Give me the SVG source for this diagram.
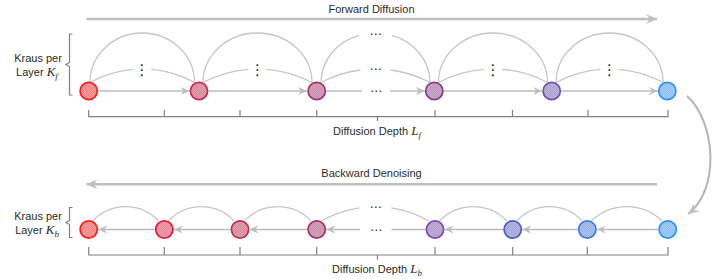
<svg xmlns="http://www.w3.org/2000/svg" width="718" height="279" viewBox="0 0 718 279">
<style>
text{font-family:"Liberation Sans",Arial,sans-serif;font-size:11px;fill:#2b2b2b}
.m{font-family:"Liberation Serif","Times New Roman",serif;font-style:italic;font-size:13px}
.sub{font-family:"Liberation Serif","Times New Roman",serif;font-style:italic;font-size:9px}
.dots{font-family:"DejaVu Sans",sans-serif;font-size:12px;fill:#1a1a1a;text-anchor:middle}
.vd{font-size:15px}
.arc{fill:none;stroke:#c6c6c6;stroke-width:1.3}
.st{fill:none;stroke:#bdbdbd;stroke-width:1.5;marker-end:url(#ah)}
.stp{fill:none;stroke:#bdbdbd;stroke-width:1.5}
.big{fill:none;stroke:#bfbfbf;stroke-width:2.6;marker-end:url(#ahb)}
.brk{fill:none;stroke:#808080;stroke-width:1.2}
.nd{stroke-width:1.7}
.tx{fill:url(#hatch);stroke:none}
</style>
<defs>
<pattern id="hatch" width="2" height="2" patternUnits="userSpaceOnUse">
<rect x="0" y="0" width="1" height="1" fill="#fff" fill-opacity="0.18"/>
<rect x="1" y="1" width="1" height="1" fill="#fff" fill-opacity="0.18"/>
</pattern>
<marker id="ah" markerUnits="userSpaceOnUse" viewBox="0 0 10 10" markerWidth="9" markerHeight="9" refX="10" refY="5" orient="auto">
<path d="M0,0.5 L10,5 L0,9.5 L3.5,5 z" fill="#bdbdbd"/>
</marker>
<marker id="ahb" markerUnits="userSpaceOnUse" viewBox="0 0 10 10" markerWidth="11" markerHeight="11" refX="10" refY="5" orient="auto">
<path d="M0,0.5 L10,5 L0,9.5 L3.5,5 z" fill="#bfbfbf"/>
</marker>
</defs>

<g id="labels">
<text x="371.5" y="13" text-anchor="middle">Forward Diffusion</text>
<text x="371.5" y="177" text-anchor="middle">Backward Denoising</text>
<text x="377" y="135" text-anchor="middle">Diffusion Depth <tspan class="m">L</tspan><tspan class="sub" dy="2.5">f</tspan></text>
<text x="377" y="273" text-anchor="middle">Diffusion Depth <tspan class="m">L</tspan><tspan class="sub" dy="2.5">b</tspan></text>
<text x="38" y="61.5" text-anchor="middle">Kraus per</text>
<text x="37" y="76" text-anchor="middle">Layer <tspan class="m">K</tspan><tspan class="sub" dy="2.5">f</tspan></text>
<text x="38" y="219.5" text-anchor="middle">Kraus per</text>
<text x="37" y="234" text-anchor="middle">Layer <tspan class="m">K</tspan><tspan class="sub" dy="2.5">b</tspan></text>
</g>

<g id="brackets">
<path class="brk" d="M72.5,34 H69.5 V62.5 L66,64.5 L69.5,66.5 V95 H72.5"/>
<path class="brk" d="M72.5,207.5 H69.5 V220.5 L66,222.5 L69.5,224.5 V237.5 H72.5"/>
<path class="brk" d="M88.7,110 V116.7 H668 V110 M164.3,116.7 V110 M240,116.7 V110 M316.7,116.7 V110 M435,116.7 V110 M512.5,116.7 V110 M588,116.7 V110 M377.5,116.7 V121"/>
<path class="brk" d="M88.7,247 V255 H668 V247 M164.3,255 V247 M240,255 V247 M316.7,255 V247 M435,255 V247 M512.7,255 V247 M587.3,255 V247 M377.5,255 V259.5"/>
</g>

<g id="connectors">
<path class="big" d="M86.5,19 L657,19"/>
<path class="big" d="M657,184.3 L86.5,184.3"/>
<path class="big" style="stroke-width:2;stroke:#b5b5b5" d="M687,96 C716,122 720,190 688,214"/>

<path class="arc" d="M90,82.5 A52.25,49.5 0 0 1 194.5,82.5"/>
<path class="arc" d="M90,82.5 A107.9,107.9 0 0 1 133.25,69.4 M151.25,69.4 A107.9,107.9 0 0 1 194.5,82.5"/>
<path class="st" d="M98.5,91 L189.5,91"/>

<path class="arc" d="M203,82.5 A54.5,49.5 0 0 1 312,82.5"/>
<path class="arc" d="M203,82.5 A116.7,116.7 0 0 1 248.5,69.35 M266.5,69.35 A116.7,116.7 0 0 1 312,82.5"/>
<path class="st" d="M208.5,91 L307,91"/>

<path class="arc" d="M321,82.5 A54.5,49.5 0 0 1 359,35.3 M392,35.3 A54.5,49.5 0 0 1 430,82.5"/>
<path class="arc" d="M321,82.5 A116.7,116.7 0 0 1 360.5,70 M390.5,70 A116.7,116.7 0 0 1 430,82.5"/>
<path class="stp" d="M326.2,91 L362,91"/>
<path class="st" d="M390,91 L424.8,91"/>

<path class="arc" d="M438.5,82.5 A54.5,49.5 0 0 1 547.5,82.5"/>
<path class="arc" d="M438.5,82.5 A116.7,116.7 0 0 1 484,69.35 M502,69.35 A116.7,116.7 0 0 1 547.5,82.5"/>
<path class="st" d="M443.8,91 L542.2,91"/>

<path class="arc" d="M556,82.5 A53.5,49.5 0 0 1 663,82.5"/>
<path class="arc" d="M556,82.5 A112.7,112.7 0 0 1 600.5,69.36 M618.5,69.36 A112.7,112.7 0 0 1 663,82.5"/>
<path class="st" d="M561.2,91 L657.8,91"/>

<path class="arc" d="M93,221 A44.65,44.65 0 0 1 158.5,221"/>
<path class="arc" d="M168.5,221 A44.65,44.65 0 0 1 234,221"/>
<path class="arc" d="M244.5,221 A45.8,45.8 0 0 1 311,221"/>
<path class="arc" d="M321.5,221 A108.2,108.2 0 0 1 359.25,207.9 M391.25,207.9 A108.2,108.2 0 0 1 429,221"/>
<path class="arc" d="M439.5,221 A47,47 0 0 1 507,221"/>
<path class="arc" d="M517,221 A44.1,44.1 0 0 1 582,221"/>
<path class="arc" d="M591.5,221 A50.6,50.6 0 0 1 662,221"/>

<path class="st" d="M154.8,229.5 L98.2,229.5"/>
<path class="st" d="M230.5,229.5 L173.8,229.5"/>
<path class="st" d="M307.2,229.5 L249.5,229.5"/>
<path class="stp" d="M425.5,229.5 L391.5,229.5"/>
<path class="st" d="M360,229.5 L326.2,229.5"/>
<path class="st" d="M503.2,229.5 L444.5,229.5"/>
<path class="st" d="M577.8,229.5 L522.2,229.5"/>
<path class="st" d="M658.2,229.5 L596.8,229.5"/>
</g>

<g id="ellipses">
<text class="dots vd" x="142" y="75">⋮</text>
<text class="dots vd" x="257.5" y="75">⋮</text>
<text class="dots vd" x="493" y="75">⋮</text>
<text class="dots vd" x="609.5" y="75">⋮</text>
<text class="dots" x="375.5" y="37.5">⋯</text>
<text class="dots" x="375.5" y="73">⋯</text>
<text class="dots" x="376" y="95">⋯</text>
<text class="dots" x="375.5" y="210.5">⋯</text>
<text class="dots" x="376" y="233.5">⋯</text>
</g>

<g id="f1"><circle class="nd" cx="88.7" cy="91" r="8.6" fill="#f08585" stroke="#ff1a1a"/><circle class="tx" cx="88.7" cy="91" r="7.8"/></g>
<g id="f2"><circle class="nd" cx="199" cy="91" r="8.6" fill="#d78a9c" stroke="#c8284a"/><circle class="tx" cx="199" cy="91" r="7.8"/></g>
<g id="f3"><circle class="nd" cx="316.7" cy="91" r="8.6" fill="#c98fae" stroke="#a3306c"/><circle class="tx" cx="316.7" cy="91" r="7.8"/></g>
<g id="f4"><circle class="nd" cx="434.3" cy="91" r="8.6" fill="#bc96bc" stroke="#8a3a82"/><circle class="tx" cx="434.3" cy="91" r="7.8"/></g>
<g id="f5"><circle class="nd" cx="551.7" cy="91" r="8.6" fill="#aaa2d2" stroke="#6e52a8"/><circle class="tx" cx="551.7" cy="91" r="7.8"/></g>
<g id="f6"><circle class="nd" cx="667.3" cy="91" r="8.6" fill="#8fc0f2" stroke="#2a90ff"/><circle class="tx" cx="667.3" cy="91" r="7.8"/></g>

<g id="b1"><circle class="nd" cx="88.7" cy="229.5" r="8.6" fill="#f08585" stroke="#ff1a1a"/><circle class="tx" cx="88.7" cy="229.5" r="7.8"/></g>
<g id="b2"><circle class="nd" cx="164.3" cy="229.5" r="8.6" fill="#e8889a" stroke="#e01a36"/><circle class="tx" cx="164.3" cy="229.5" r="7.8"/></g>
<g id="b3"><circle class="nd" cx="240" cy="229.5" r="8.6" fill="#d78a9c" stroke="#c02a52"/><circle class="tx" cx="240" cy="229.5" r="7.8"/></g>
<g id="b4"><circle class="nd" cx="316.7" cy="229.5" r="8.6" fill="#c98fae" stroke="#a3306c"/><circle class="tx" cx="316.7" cy="229.5" r="7.8"/></g>
<g id="b5"><circle class="nd" cx="435" cy="229.5" r="8.6" fill="#b49ed0" stroke="#7a48a8"/><circle class="tx" cx="435" cy="229.5" r="7.8"/></g>
<g id="b6"><circle class="nd" cx="512.7" cy="229.5" r="8.6" fill="#a2a8da" stroke="#4c5ec0"/><circle class="tx" cx="512.7" cy="229.5" r="7.8"/></g>
<g id="b7"><circle class="nd" cx="587.3" cy="229.5" r="8.6" fill="#98b4ea" stroke="#3a7ae0"/><circle class="tx" cx="587.3" cy="229.5" r="7.8"/></g>
<g id="b8"><circle class="nd" cx="667.7" cy="229.5" r="8.6" fill="#8fc0f2" stroke="#2a90ff"/><circle class="tx" cx="667.7" cy="229.5" r="7.8"/></g>
</svg>
